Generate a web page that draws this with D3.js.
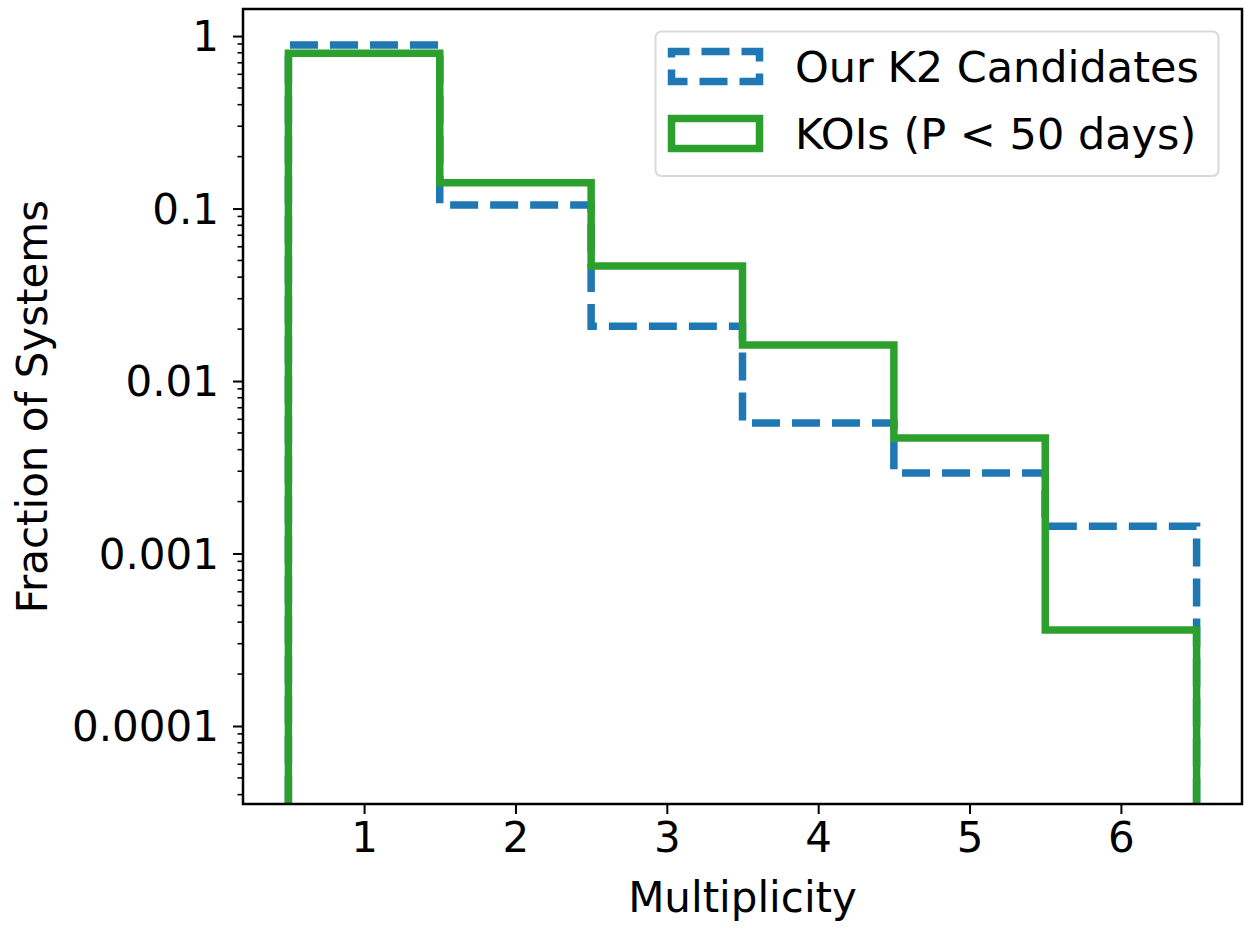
<!DOCTYPE html>
<html>
<head>
<meta charset="utf-8">
<script src="https://cdn.jsdelivr.net/npm/d3@7"></script>
<style>
  body { margin: 0; background: #fff; }
  svg { display: block; }
  text { font-family: "DejaVu Sans", sans-serif; fill: #000; }
</style>
</head>
<body>
<svg id="chart" width="1244" height="928"></svg>
<script>
// ---- Data ----
const multiplicity = [1, 2, 3, 4, 5, 6];
const k2Fractions  = [0.887, 0.105, 0.0208, 0.00571, 0.00293, 0.00144];
const koiFractions = [0.794, 0.141, 0.0464, 0.0162, 0.00468, 0.00036];
const xTicks = [1, 2, 3, 4, 5, 6];
const yTicks = [1, 0.1, 0.01, 0.001, 0.0001];
const yTickLabels = ["1", "0.1", "0.01", "0.001", "0.0001"];
const seriesNames = ["Our K2 Candidates", "KOIs (P < 50 days)"];
const colors = ["#1f77b4", "#2ca02c"];

// ---- Layout ----
const L = 243, R = 1242, T = 9, B = 804;
const svg = d3.select("#chart");

const x = d3.scaleLinear().domain([0.2, 6.8]).range([L, R]);
const y = d3.scaleLog().domain([3.53e-5, 1.435]).range([B, T]);

// clip
svg.append("defs").append("clipPath").attr("id", "clip")
  .append("rect").attr("x", L).attr("y", T).attr("width", R - L).attr("height", B - T);

function stepPoints(vals) {
  const base = 1e-7;
  const pts = [[multiplicity[0] - 0.5, base]];
  vals.forEach((v, i) => {
    pts.push([multiplicity[i] - 0.5, v]);
    pts.push([multiplicity[i] + 0.5, v]);
  });
  pts.push([multiplicity[multiplicity.length - 1] + 0.5, base]);
  return pts;
}
const line = d3.line().x(d => x(d[0])).y(d => y(d[1]));

const plot = svg.append("g").attr("clip-path", "url(#clip)");
plot.append("path")
  .attr("d", line(stepPoints(k2Fractions)))
  .attr("fill", "none").attr("stroke", colors[0]).attr("stroke-width", 7.5)
  .attr("stroke-dasharray", "28,12").attr("stroke-dashoffset", 0)
  .attr("stroke-linejoin", "miter");
plot.append("path")
  .attr("d", line(stepPoints(koiFractions)))
  .attr("fill", "none").attr("stroke", colors[1]).attr("stroke-width", 7.5)
  .attr("stroke-linejoin", "miter");

// ---- Axes ----
const xAxis = d3.axisBottom(x).tickValues(xTicks).tickSize(10).tickPadding(8).tickFormat(d3.format("d"));
const gx = svg.append("g").attr("transform", `translate(0,${B})`).call(xAxis);
gx.select(".domain").remove();
gx.selectAll(".tick line").attr("stroke-width", 2);
gx.selectAll(".tick text").attr("font-size", 42).attr("font-family", "DejaVu Sans");

const yAxis = d3.axisLeft(y).tickValues(yTicks).tickSize(10).tickPadding(14)
  .tickFormat((d, i) => yTickLabels[i]);
const gy = svg.append("g").attr("transform", `translate(${L},0)`).call(yAxis);
gy.select(".domain").remove();
gy.selectAll(".tick line").attr("stroke-width", 2);
gy.selectAll(".tick text").attr("font-size", 42).attr("font-family", "DejaVu Sans").attr("dy", "0.35em");

// minor ticks
const minor = [];
const [ymin, ymax] = y.domain();
for (let e = -5; e <= 0; e++) {
  for (let m = 2; m <= 9; m++) {
    const v = m * Math.pow(10, e);
    if (v >= ymin && v <= ymax) minor.push(v);
  }
}
svg.append("g").selectAll("line").data(minor).join("line")
  .attr("x1", L - 5.5).attr("x2", L)
  .attr("y1", d => y(d)).attr("y2", d => y(d))
  .attr("stroke", "#000").attr("stroke-width", 1.6);

// frame
svg.append("rect").attr("x", L).attr("y", T).attr("width", R - L).attr("height", B - T)
  .attr("fill", "none").attr("stroke", "#000").attr("stroke-width", 2.5);

// labels
svg.append("text").attr("x", (L + R) / 2).attr("y", 912).attr("text-anchor", "middle")
  .attr("font-size", 42).text("Multiplicity");
svg.append("text").attr("transform", `translate(47,${(T + B) / 2}) rotate(-90)`)
  .attr("text-anchor", "middle").attr("font-size", 42).text("Fraction of Systems");

// ---- Legend ----
const lg = svg.append("g");
lg.append("rect").attr("x", 655.5).attr("y", 31.5).attr("width", 563).attr("height", 144.5)
  .attr("rx", 6).attr("fill", "#fff").attr("fill-opacity", 0.8)
  .attr("stroke", "#d9d9d9").attr("stroke-width", 2);
const rows = [66.5, 133.5];
seriesNames.forEach((name, i) => {
  const r = lg.append("rect").attr("x", 671.5).attr("y", rows[i] - 15).attr("width", 88).attr("height", 30)
    .attr("fill", "none").attr("stroke", colors[i]).attr("stroke-width", 7.5);
  if (i === 0) r.attr("stroke-dasharray", "28,12").attr("stroke-dashoffset", 10);
  lg.append("text").attr("x", 795).attr("y", rows[i] + 15.5).attr("font-size", 43).text(name);
});
</script>
</body>
</html>
